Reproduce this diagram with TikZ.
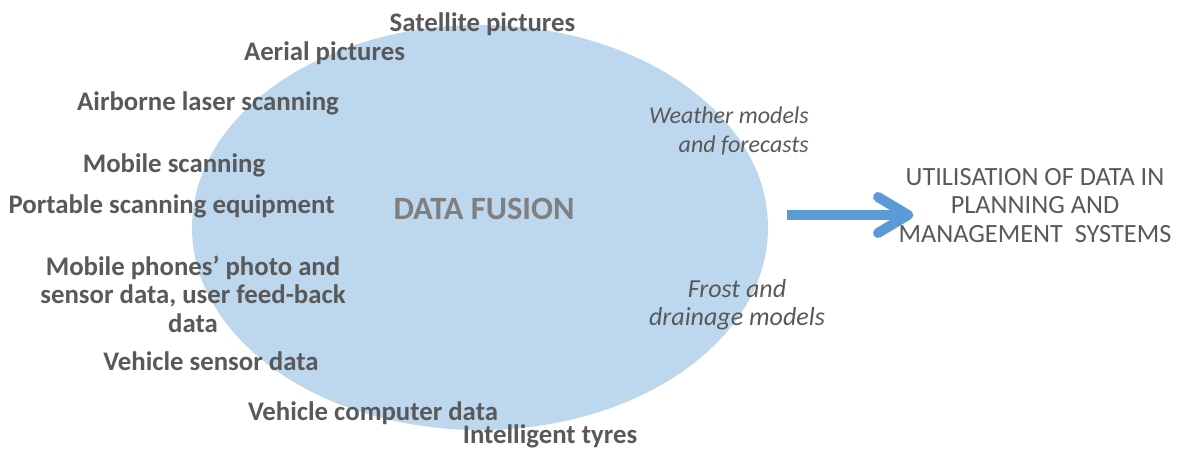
\documentclass[tikz,border=0pt]{standalone}
\usepackage{fontspec}
\setmainfont{Carlito}
\usetikzlibrary{arrows.meta}
\definecolor{fillblue}{HTML}{BDD7EE}
\definecolor{arrowblue}{HTML}{5B9BD5}
\definecolor{txtgray}{HTML}{595959}
\definecolor{lightgray}{HTML}{7F7F7F}
\tikzset{
  src/.style={font=\fontsize{26.8}{28.5}\selectfont\bfseries, text=txtgray, inner sep=0pt, align=center, anchor=base},
  model/.style={font=\fontsize{24}{29}\selectfont\itshape, text=txtgray, inner sep=0pt, align=center, anchor=base},
  outtxt/.style={font=\fontsize{26.3}{28.5}\selectfont, text=txtgray, inner sep=0pt, align=center, anchor=base},
  fusion/.style={font=\fontsize{32.5}{34}\selectfont\bfseries, text=lightgray, inner sep=0pt, anchor=base},
  bigarrow/.style={draw=arrowblue, line width=10pt, -{Straight Barb[round,length=30pt,width=36pt]}}
}
\begin{document}
\begin{tikzpicture}[x=1pt,y=-1pt]
\useasboundingbox (0,0) rectangle (1179,450);
\fill[fillblue] (480,227.5) ellipse [x radius=288, y radius=202.5];
\node[src] (sat) at (482.5,31) {Satellite pictures};
\node[src] (aer) at (324.5,60) {Aerial pictures};
\node[src] (als) at (208,110) {Airborne laser scanning};
\node[src] (mob) at (174,172) {Mobile scanning};
\node[src] (port) at (171.5,213) {Portable scanning equipment};
\node[src] (phone) at (193,332) {Mobile phones’ photo and\\sensor data, user feed-back\\data};
\node[src] (vsd) at (211,370) {Vehicle sensor data};
\node[src] (vcd) at (373,420) {Vehicle computer data};
\node[src] (tyre) at (550,443) {Intelligent tyres};
\node[fusion] (fus) at (484,219) {DATA FUSION};
\node[model, align=right, anchor=base east] (wea) at (809,152) {Weather models\\and forecasts};
\node[model, font=\fontsize{26}{28}\selectfont\itshape] (fro) at (737,325) {Frost and\\drainage models};
\node[outtxt] (util) at (1035,242) {UTILISATION OF DATA IN\\PLANNING AND\\MANAGEMENT\ \ SYSTEMS};
\coordinate (astart) at (787,215);
\coordinate (aend) at (913,215);
\draw[bigarrow] (astart) -- (aend);
\end{tikzpicture}
\end{document}
